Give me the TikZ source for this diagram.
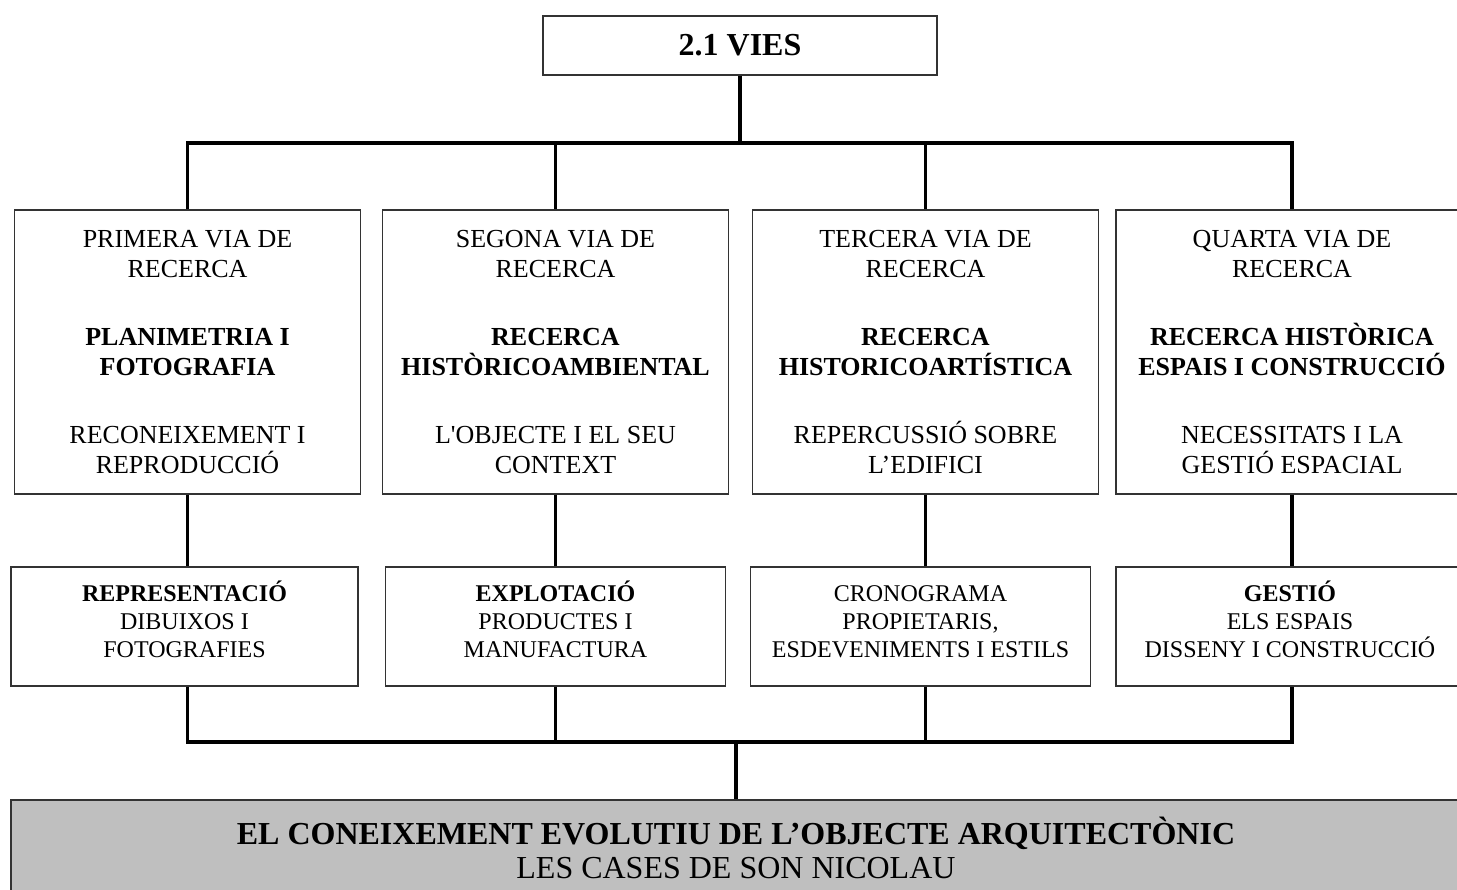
\documentclass[tikz,border=0pt]{standalone}
\usepackage{fontspec}
\setmainfont{Liberation Serif}
\usepackage{tikz}
\newcommand\dalt{\rule{0pt}{22pt}}
\newcommand\baix{\rule[-17pt]{0pt}{17pt}}

\begin{document}
\begin{tikzpicture}[x=1pt,y=-1pt,
        caixa/.style={draw=black!80,line width=1.2pt,align=center,inner sep=0pt},
        via/.style={caixa,minimum width=346pt,minimum height=284pt,font=\fontsize{26}{30}\selectfont},
        res/.style={caixa,minimum width=340pt,minimum height=119pt,font=\fontsize{24}{28}\selectfont},
        link/.style={line width=3.5pt}]
    \clip (0,0) rectangle (1457,890);
    \node[caixa,minimum width=394pt,minimum height=59pt,font=\fontsize{32}{36}\selectfont\bfseries] (vies) at (740,45.5) {2.1 VIES};

    \node[via] (via1) at (187.5,352) {PRIMERA VIA DE\\RECERCA\\[38pt]\textbf{PLANIMETRIA I}\\\textbf{FOTOGRAFIA}\\[38pt]RECONEIXEMENT I\\REPRODUCCIÓ};
    \node[via] (via2) at (555.5,352) {SEGONA VIA DE\\RECERCA\\[38pt]\textbf{RECERCA}\\\textbf{HISTÒRICOAMBIENTAL}\\[38pt]L\textquotesingle OBJECTE I EL SEU\\CONTEXT};
    \node[via] (via3) at (925.5,352) {TERCERA VIA DE\\RECERCA\\[38pt]\textbf{RECERCA}\\\textbf{HISTORICOARTÍSTICA}\\[38pt]REPERCUSSIÓ SOBRE\\L’EDIFICI};
    \node[via,minimum width=352pt] (via4) at (1292,352) {QUARTA VIA DE\\RECERCA\\[38pt]\textbf{RECERCA HISTÒRICA}\\\textbf{ESPAIS I CONSTRUCCIÓ}\\[38pt]NECESSITATS I LA\\GESTIÓ ESPACIAL};

    \node[res,minimum width=347pt] (res1) at (184.5,626.5) {\dalt\textbf{REPRESENTACIÓ}\\DIBUIXOS I\\FOTOGRAFIES\baix};
    \node[res] (res2) at (555.5,626.5) {\dalt\textbf{EXPLOTACIÓ}\\PRODUCTES I\\MANUFACTURA\baix};
    \node[res] (res3) at (920.5,626.5) {\dalt CRONOGRAMA\\PROPIETARIS,\\ESDEVENIMENTS I ESTILS\baix};
    \node[res,minimum width=348pt] (res4) at (1290,626.5) {\dalt\textbf{GESTIÓ}\\ELS ESPAIS\\DISSENY I CONSTRUCCIÓ\baix};

    \node[caixa,fill=black!25,minimum width=1450pt,minimum height=95pt,font=\fontsize{32}{34}\selectfont] (obj) at (736,847.5) {\textbf{EL CONEIXEMENT EVOLUTIU DE L’OBJECTE ARQUITECTÒNIC}\\LES CASES DE SON NICOLAU};

    \coordinate (fork) at (740,143);
    \coordinate (bar) at (736,742);
    \draw[link] (vies.south) -- (fork);
    \draw[link] (via1.north) |- (fork) -| (via4.north);
    \foreach \i in {2,3}
        \draw[link] (via\i.north) -- (via\i.north |- fork);
    \foreach \i in {1,...,4}
        \draw[link] (via\i.south) -- (via\i.south |- res\i.north);
    \draw[link] (via1.south |- res1.south) |- (bar) -| (via4.south |- res4.south);
    \foreach \i in {2,3}
        \draw[link] (via\i.south |- res\i.south) -- (via\i.south |- bar);
    \draw[link] (bar) -- (obj.north);
\end{tikzpicture}
\end{document}
